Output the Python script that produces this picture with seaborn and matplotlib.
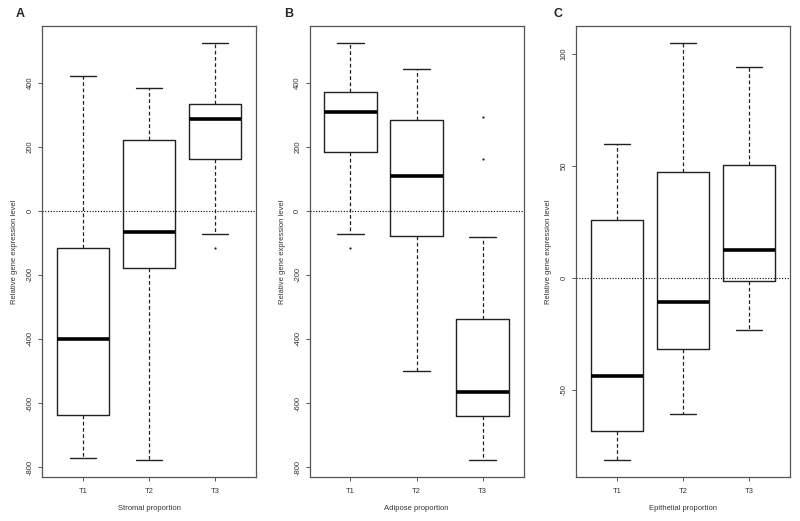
import numpy as np
import pandas as pd
import matplotlib
matplotlib.use("Agg")
import matplotlib.pyplot as plt
import seaborn as sns

sns.set_theme(style="white")
plt.rcParams['font.family'] = ['Liberation Sans', 'DejaVu Sans']

groups = ["T1", "T2", "T3"]

# five-number summaries: [lower whisker, Q1, median, Q3, upper whisker]
stromal_T1 = [-773, -637, -400, -115, 420]
stromal_T2 = [-779, -179, -66, 220, 382]
stromal_T3 = [-73, 162, 287, 335, 525]
stromal_out = {"T3": [-117]}

adipose_T1 = [-73, 183, 308, 371, 525]
adipose_T2 = [-501, -79, 108, 283, 442]
adipose_T3 = [-779, -639, -567, -337, -81]
adipose_out = {"T1": [-117], "T3": [162, 294]}

epithelial_T1 = [-81.4, -68.4, -43.9, 25.9, 59.5]
epithelial_T2 = [-61.0, -32.0, -10.7, 47.0, 104.8]
epithelial_T3 = [-23.3, -1.5, 12.5, 50.3, 93.9]
epithelial_out = {}

panels = [
    ("A", "Stromal proportion", [stromal_T1, stromal_T2, stromal_T3], stromal_out,
     [-800, -600, -400, -200, 0, 200, 400], (-831, 577)),
    ("B", "Adipose proportion", [adipose_T1, adipose_T2, adipose_T3], adipose_out,
     [-800, -600, -400, -200, 0, 200, 400], (-831, 577)),
    ("C", "Epithelial proportion", [epithelial_T1, epithelial_T2, epithelial_T3], epithelial_out,
     [-50, 0, 50, 100], (-88.9, 112.3)),
]

W, H = 800, 521
fig = plt.figure(figsize=(W / 100, H / 100), dpi=100)
lefts = [42, 309.5, 576]
label_x = [20, 289, 558]
ax_w = 214
ax_top, ax_bot = 26, 477

line_col = "#222222"
frame_col = "#555555"

for (letter, xlabel, vals, outs, yticks, ylim), L, lx in zip(panels, lefts, label_x):
    ax = fig.add_axes([L / W, (H - ax_bot) / H, ax_w / W, (ax_bot - ax_top) / H])
    df = pd.DataFrame({
        "group": np.repeat(groups, [len(v) for v in vals]),
        "value": np.concatenate(vals),
    })
    sns.boxplot(
        data=df, x="group", y="value", order=groups, ax=ax,
        whis=(0, 100), width=0.8, fill=False, color=line_col, linewidth=1.0,
        showfliers=False,
        boxprops=dict(color=line_col, linewidth=1.0),
        whiskerprops=dict(color=line_col, linestyle=(0, (3, 2)), linewidth=0.9),
        capprops=dict(color=line_col, linewidth=1.0),
        medianprops=dict(color="black", linewidth=2.6),
        capwidths=0.4,
    )
    # outliers
    orows = []
    for g, pts in outs.items():
        for p in pts:
            orows.append((g, p))
    if orows:
        odf = pd.DataFrame(orows, columns=["group", "value"])
        sns.stripplot(data=odf, x="group", y="value", order=groups, ax=ax,
                      jitter=False, color=line_col, size=1.6, marker="o",
                      linewidth=0)
    ax.axhline(0, color="black", linestyle=(0, (1, 1.5)), linewidth=0.8, zorder=0)
    ax.set_xlim(-0.62, 2.62)
    ax.set_ylim(*ylim)
    ax.set_yticks(yticks)
    ax.set_yticklabels([str(t) for t in yticks], rotation=90, va="center", fontsize=5.5, color="#333333")
    ax.set_xticks([0, 1, 2])
    ax.set_xticklabels(groups, fontsize=5.5, color="#333333")
    ax.tick_params(axis="y", direction="out", length=3, width=0.7, color=frame_col,
                   left=True, pad=3)
    ax.tick_params(axis="x", direction="out", length=3, width=0.7, color=frame_col,
                   bottom=True, pad=5)
    ax.set_xlabel(xlabel, fontsize=5.5, color="#333333", labelpad=7)
    ax.set_ylabel("Relative gene expression level", fontsize=5.5, color="#333333", labelpad=6)
    for s in ax.spines.values():
        s.set_color(frame_col)
        s.set_linewidth(0.9)
        s.set_visible(True)
    fig.text(lx / W, 1 - 14 / H, letter, fontsize=9, fontweight="bold", ha="center", va="center")

fig.savefig("out.png", dpi=100)
